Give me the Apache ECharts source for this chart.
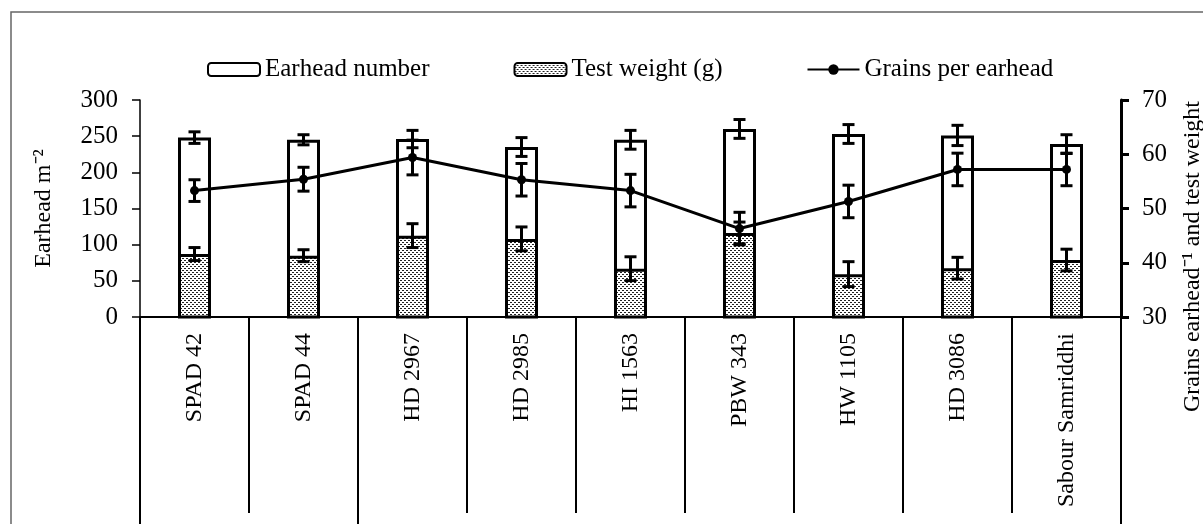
<!DOCTYPE html>
<html>
<head>
<meta charset="utf-8">
<script src="https://cdn.jsdelivr.net/npm/echarts@6/dist/echarts.min.js"></script>
<style>
  html, body { margin: 0; padding: 0; background: #fff; }
  #main { width: 1203px; height: 524px; }
</style>
</head>
<body>
<div id="main"></div>
<script>
var categories = ['SPAD 42', 'SPAD 44', 'HD 2967', 'HD 2985', 'HI 1563', 'PBW 343', 'HW 1105', 'HD 3086', 'Sabour Samriddhi'];
var earheadNumber = [248, 245, 246, 235, 245, 260, 253, 251, 239];
var earheadErr = [8, 7, 12, 13, 13, 13, 13, 14, 13];
var testWeight = [41.6, 41.3, 45.0, 44.4, 38.9, 45.5, 37.9, 39.0, 40.5];
var testWeightErr = [1.2, 1.1, 2.2, 2.2, 2.2, 2.0, 2.3, 2.0, 2.0];
var grainsPerEarhead = [53.3, 55.4, 59.4, 55.3, 53.3, 46.3, 51.3, 57.2, 57.2];
var grainsErr = [2.0, 2.2, 3.2, 3.0, 3.0, 3.0, 3.0, 3.0, 3.0];
var groupBounds = [0, 2, 9];   // category group separators (Excel multi-level axis)

var FONT = 'Liberation Serif';

// stipple fill for test weight bars
var tile = document.createElement('canvas');
tile.width = 4; tile.height = 4;
var tc = tile.getContext('2d');
tc.fillStyle = '#fff';
tc.fillRect(0, 0, 4, 4);
tc.fillStyle = '#222';
tc.fillRect(0, 0, 2, 1);
tc.fillRect(2, 2, 2, 1);
var stipple = { image: tile, repeat: 'repeat' };

function errData(vals, errs) {
  return vals.map(function (v, i) { return [i, v - errs[i], v + errs[i]]; });
}

function renderErr(params, api) {
  var lo = api.coord([api.value(0), api.value(1)]);
  var hi = api.coord([api.value(0), api.value(2)]);
  var half = 6;
  var st = { stroke: '#000', lineWidth: 3 };
  return {
    type: 'group',
    children: [
      { type: 'line', shape: { x1: lo[0], y1: hi[1], x2: lo[0], y2: lo[1] }, style: st },
      { type: 'line', shape: { x1: lo[0] - half, y1: hi[1], x2: lo[0] + half, y2: hi[1] }, style: st },
      { type: 'line', shape: { x1: lo[0] - half, y1: lo[1], x2: lo[0] + half, y2: lo[1] }, style: st }
    ]
  };
}

var chart = echarts.init(document.getElementById('main'), null, { renderer: 'canvas' });
chart.setOption({
  backgroundColor: '#fff',
  animation: false,
  textStyle: { fontFamily: FONT, color: '#000' },
  graphic: [{
    type: 'rect',
    shape: { x: 11, y: 12, width: 1400, height: 800 },
    style: { fill: 'none', stroke: '#666', lineWidth: 1.5 },
    silent: true
  }],
  legend: {
    data: ['Earhead number', 'Test weight (g)', 'Grains per earhead'],
    left: 202,
    top: 52,
    itemWidth: 52,
    itemHeight: 13,
    itemGap: 84,
    textStyle: { fontFamily: FONT, fontSize: 25, color: '#000' }
  },
  grid: { left: 140, right: 82, top: 100, bottom: 207, containLabel: false, outerBoundsMode: 'none' },
  xAxis: [{
    type: 'category',
    data: categories,
    boundaryGap: true,
    axisLine: { lineStyle: { color: '#000', width: 2 } },
    axisTick: { show: true, interval: 0, length: 196, lineStyle: { color: '#000', width: 2 } },
    axisLabel: { interval: 0, rotate: 90, fontSize: 24, fontFamily: FONT, color: '#000', margin: 16 }
  }, {
    type: 'value',
    position: 'bottom',
    min: 0,
    max: 9,
    axisLine: { show: false },
    splitLine: { show: false },
    axisLabel: { show: false },
    axisTick: { show: true, customValues: groupBounds, length: 230, lineStyle: { color: '#000', width: 2 } }
  }],
  yAxis: [{
    type: 'value',
    min: 0,
    max: 300,
    interval: 50,
    name: 'Earhead m\u207B\u00B2',
    nameLocation: 'middle',
    nameGap: 84,
    nameTextStyle: { fontFamily: FONT, fontSize: 24, color: '#000' },
    axisLine: { show: true, lineStyle: { color: '#000', width: 1.5 } },
    axisTick: { show: true, length: 8, lineStyle: { color: '#000', width: 1.5 } },
    axisLabel: { fontSize: 25, fontFamily: FONT, color: '#000', margin: 22 },
    splitLine: { show: false }
  }, {
    type: 'value',
    min: 30,
    max: 70,
    interval: 10,
    position: 'right',
    name: 'Grains earhead\u207B\u00B9 and test weight',
    nameLocation: 'middle',
    nameGap: 60,
    nameTextStyle: { fontFamily: FONT, fontSize: 24, color: '#000', padding: [0, 96, 0, 0] },
    axisLine: { show: true, lineStyle: { color: '#000', width: 3 } },
    axisTick: { show: true, length: 8, lineStyle: { color: '#000', width: 3 } },
    axisLabel: { fontSize: 25, fontFamily: FONT, color: '#000', margin: 21 },
    splitLine: { show: false }
  }],
  series: [{
    name: 'Earhead number',
    type: 'bar',
    barWidth: 33,
    data: earheadNumber,
    itemStyle: { color: '#fff', borderColor: '#000', borderWidth: 3 },
    z: 2
  }, {
    name: 'Test weight (g)',
    type: 'bar',
    yAxisIndex: 1,
    barWidth: 33,
    barGap: '-100%',
    data: testWeight,
    itemStyle: { color: stipple, borderColor: '#000', borderWidth: 3 },
    z: 3
  }, {
    name: 'earheadErr',
    type: 'custom',
    renderItem: renderErr,
    encode: { x: 0, y: [1, 2] },
    data: errData(earheadNumber, earheadErr),
    z: 4
  }, {
    name: 'testWeightErr',
    type: 'custom',
    yAxisIndex: 1,
    renderItem: renderErr,
    encode: { x: 0, y: [1, 2] },
    data: errData(testWeight, testWeightErr),
    z: 4
  }, {
    name: 'Grains per earhead',
    type: 'line',
    yAxisIndex: 1,
    data: grainsPerEarhead,
    symbol: 'circle',
    symbolSize: 9,
    lineStyle: { color: '#000', width: 3 },
    itemStyle: { color: '#000' },
    z: 5
  }, {
    name: 'grainsErr',
    type: 'custom',
    yAxisIndex: 1,
    renderItem: renderErr,
    encode: { x: 0, y: [1, 2] },
    data: errData(grainsPerEarhead, grainsErr),
    z: 6
  }]
});
</script>
</body>
</html>
